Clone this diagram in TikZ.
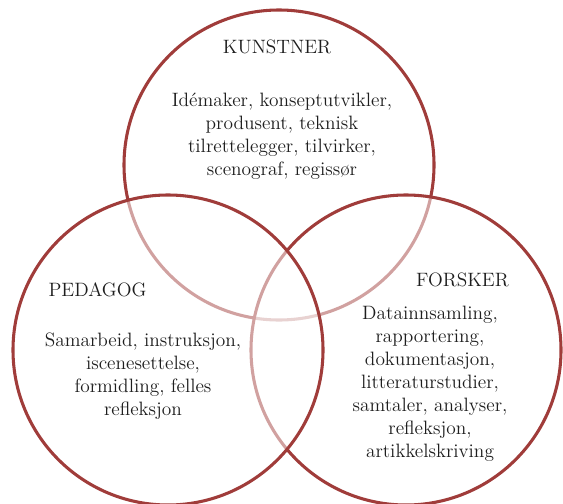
\documentclass[tikz,border=0pt]{standalone}
\usepackage{fontspec}
\definecolor{ringred}{RGB}{160,60,58}
\definecolor{inktext}{RGB}{30,30,30}
\begin{document}
\begin{tikzpicture}[x=0.75pt,y=-0.75pt,
  ring/.style={circle, draw=ringred, line width=2.3pt, fill=white,
    fill opacity=0.52, minimum size=232.5pt, inner sep=0pt},
  role/.style={font=\fontsize{14.5pt}{17.3pt}\selectfont, text=inktext, inner sep=0pt},
  tasks/.style={role, align=center}]
  \useasboundingbox (0,0) rectangle (563,503);
  % the three roles, lowest layer first
  \node[ring] (kunstner) at (279,165) {};
  \node[ring] (forsker) at (406,350) {};
  \node[ring] (pedagog) at (168,350) {};
  % role names
  \node[role] (tk) at (277,47) {KUNSTNER};
  \node[role] (tp) at (97.5,290) {PEDAGOG};
  \node[role] (tf) at (462.5,280) {FORSKER};
  % tasks of each role
  \node[tasks] (bk) at (282,136) {Idémaker, konseptutvikler,\\produsent, teknisk\\tilrettelegger, tilvirker,\\scenograf, regissør};
  \node[tasks] (bp) at (143,376.5) {Samarbeid, instruksjon,\\iscenesettelse,\\formidling, felles\\refleksjon};
  \node[tasks] (bf) at (430,383.5) {Datainnsamling,\\rapportering,\\dokumentasjon,\\litteraturstudier,\\samtaler, analyser,\\refleksjon,\\artikkelskriving};
\end{tikzpicture}
\end{document}
